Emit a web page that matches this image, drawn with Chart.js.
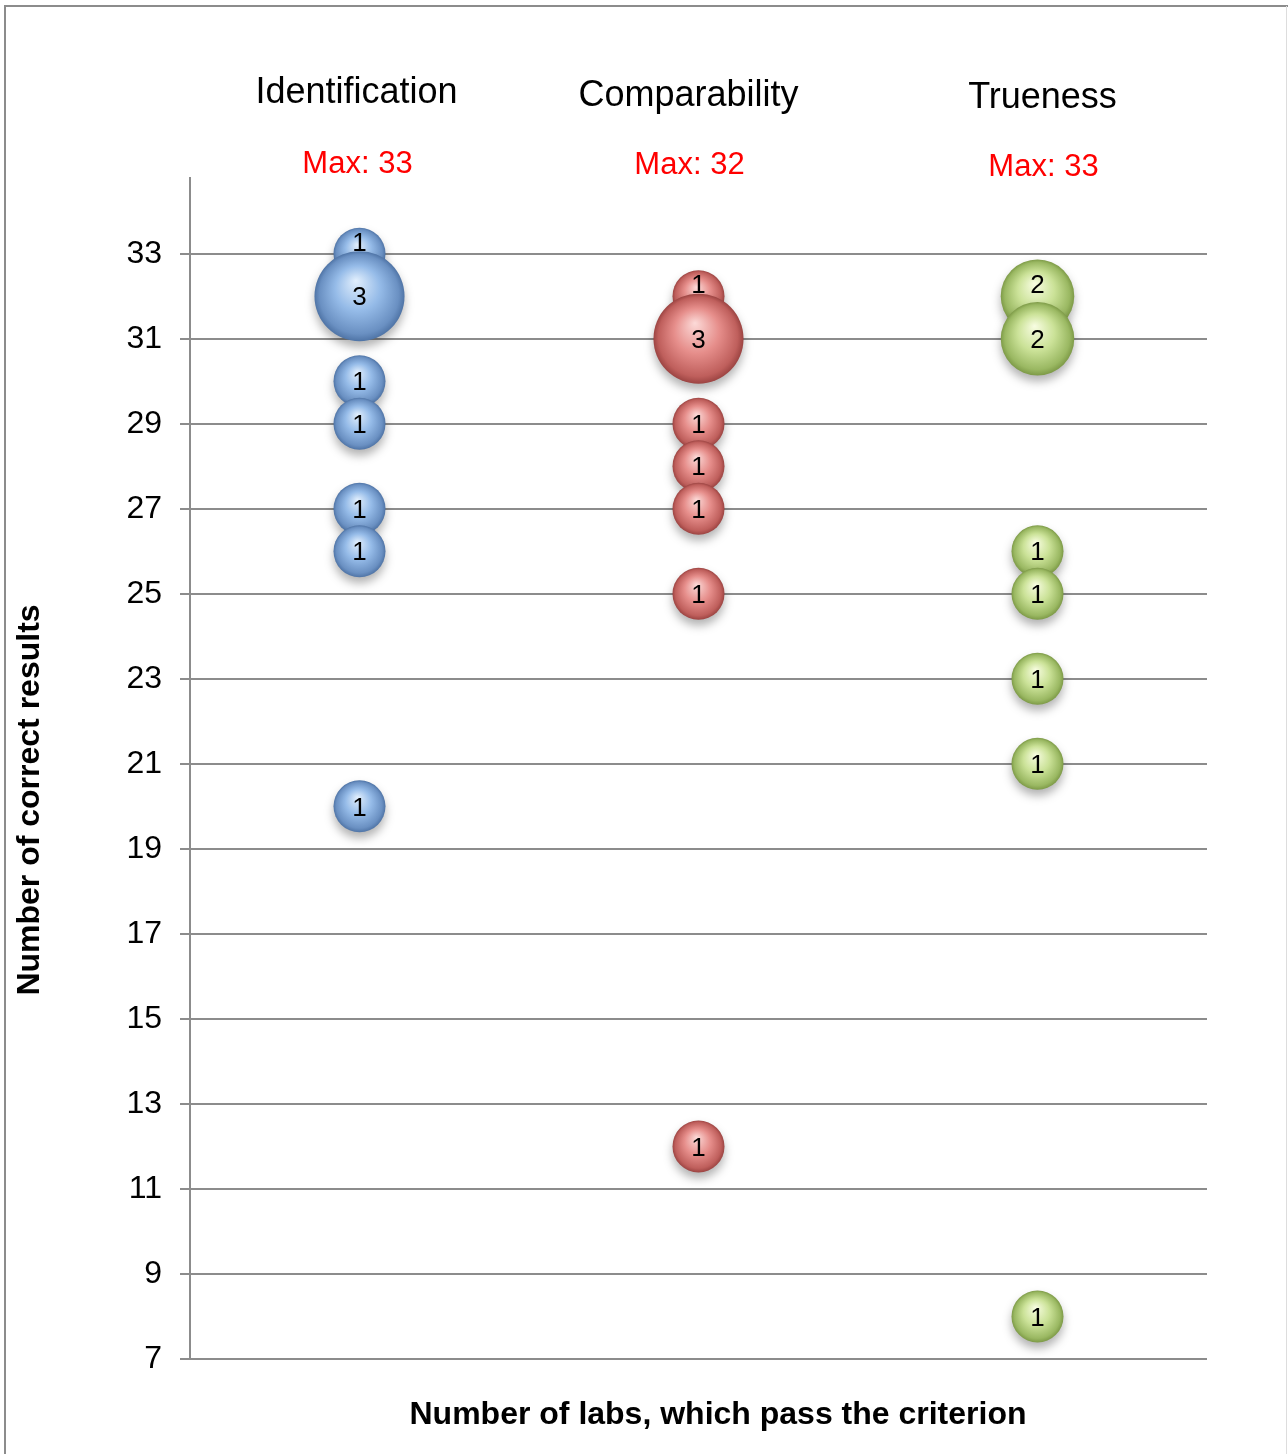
<!DOCTYPE html>
<html>
<head>
<meta charset="utf-8">
<script src="https://cdn.jsdelivr.net/npm/chart.js@4.4.1/dist/chart.umd.min.js"></script>
<style>
  html, body { margin: 0; padding: 0; background: #fff; }
  #wrap { position: relative; width: 1288px; height: 1454px; }
</style>
</head>
<body>
<div id="wrap"><canvas id="bubbleChart" width="1288" height="1454"></canvas></div>
<script>
/// === DATA === ///
const categories = ['Identification', 'Comparability', 'Trueness'];
const maxLabels = ['Max: 33', 'Max: 32', 'Max: 33'];

// correct results per lab group, and how many labs share that score
const identScores = [33, 32, 30, 29, 27, 26, 20];
const identLabs = [1, 3, 1, 1, 1, 1, 1];
const compScores = [32, 31, 29, 28, 27, 25, 12];
const compLabs = [1, 3, 1, 1, 1, 1, 1];
const trueScores = [32, 31, 26, 25, 23, 21, 8];
const trueLabs = [2, 2, 1, 1, 1, 1, 1];

const yTicks = [7, 9, 11, 13, 15, 17, 19, 21, 23, 25, 27, 29, 31, 33];

const yTitle = 'Number of correct results';
const xTitle = 'Number of labs, which pass the criterion';

/// === HELPERS === ///
const FONT = '"Liberation Sans", Arial, Helvetica, sans-serif';

// header text boxes are not exactly above the bubbles
const headerShiftX = [-3, -10, 5];
const headerShiftY = [0, 3, 5];

const toPoints = (scores, labs, catIndex) => {
  return scores.map((score, i) => ({ x: catIndex + 1, y: score, n: labs[i] }));
};

// sphere look: highlight near top, darker rim
const sphereFill = colors => context => {
  const raw = context.raw;
  const chart = context.chart;
  if (!raw || !chart.scales.x || !chart.scales.y) return colors[1];
  const cx = chart.scales.x.getPixelForValue(raw.x);
  const cy = chart.scales.y.getPixelForValue(raw.y);
  if (!isFinite(cx) || !isFinite(cy)) return colors[1];
  const r = 26 * Math.sqrt(raw.n);
  const g = chart.ctx.createRadialGradient(cx - r * 0.08, cy - r * 0.35, 0, cx, cy, r);
  g.addColorStop(0, colors[0]);
  g.addColorStop(0.5, colors[1]);
  g.addColorStop(0.88, colors[2]);
  g.addColorStop(1, colors[3]);
  return g;
};

const blueSphere = ['#e2effd', '#95bbe8', '#6a90c2', '#4f74a6'];
const redSphere = ['#fcdad8', '#e68e8b', '#bf5f5c', '#9c4442'];
const greenSphere = ['#f8fde2', '#cbe298', '#9ab862', '#7d9a47'];

/// === PLUGINS === ///
const frameAndText = {
  id: 'frameAndText',
  beforeDraw(chart) {
    const ctx = chart.ctx;
    ctx.save();
    ctx.fillStyle = '#ffffff';
    ctx.fillRect(0, 0, chart.width, chart.height);
    ctx.strokeStyle = '#8c8c8c';
    ctx.lineWidth = 2;
    ctx.beginPath();
    ctx.moveTo(5, chart.height);
    ctx.lineTo(5, 6);
    ctx.lineTo(chart.width, 6);
    ctx.stroke();
    ctx.strokeStyle = '#dddddd';
    ctx.lineWidth = 1;
    ctx.beginPath();
    ctx.moveTo(1286.5, 6);
    ctx.lineTo(1286.5, chart.height);
    ctx.stroke();
    ctx.restore();
  },
  afterDraw(chart) {
    const ctx = chart.ctx;
    const xScale = chart.scales.x;
    ctx.save();
    ctx.textAlign = 'center';
    ctx.textBaseline = 'middle';
    categories.forEach((cat, i) => {
      const px = xScale.getPixelForValue(i + 1) + headerShiftX[i];
      ctx.fillStyle = '#000000';
      ctx.font = '36px ' + FONT;
      ctx.fillText(cat, px, 93 + headerShiftY[i]);
      ctx.fillStyle = '#ff0000';
      ctx.font = '31px ' + FONT;
      ctx.fillText(maxLabels[i], px + 1, 164 + headerShiftY[i] * 0.6);
    });
    ctx.fillStyle = '#000000';
    ctx.font = 'bold 32px ' + FONT;
    ctx.fillText(xTitle, 718, 1415);
    ctx.translate(30, 800);
    ctx.rotate(-Math.PI / 2);
    ctx.fillText(yTitle, 0, 0);
    ctx.restore();
  }
};

const bubbleShadow = {
  id: 'bubbleShadow',
  beforeDatasetDraw(chart) {
    const ctx = chart.ctx;
    ctx.save();
    ctx.shadowColor = 'rgba(0, 0, 0, 0.3)';
    ctx.shadowBlur = 10;
    ctx.shadowOffsetX = 0;
    ctx.shadowOffsetY = 6;
  },
  afterDatasetDraw(chart) {
    chart.ctx.restore();
  }
};

const bubbleLabels = {
  id: 'bubbleLabels',
  afterDatasetsDraw(chart) {
    const ctx = chart.ctx;
    ctx.save();
    ctx.fillStyle = '#000000';
    ctx.font = '26px ' + FONT;
    ctx.textAlign = 'center';
    ctx.textBaseline = 'middle';
    chart.data.datasets.forEach((ds, di) => {
      const meta = chart.getDatasetMeta(di);
      meta.data.forEach((el, i) => {
        const r = el.options.radius;
        let y = el.y;
        const next = meta.data[i + 1];
        // label moves up when the next bubble covers the middle
        if (next && next.y - next.options.radius - el.y < r * 0.3) {
          y -= 12;
        }
        ctx.fillText(String(ds.data[i].n), el.x, y + 2);
      });
    });
    ctx.restore();
  }
};

/// === CHART === ///
new Chart(
  document.getElementById('bubbleChart'),
  {
    type: 'bubble',
    data: {
      datasets: [
        {
          label: categories[0],
          data: toPoints(identScores, identLabs, 0),
          backgroundColor: sphereFill(blueSphere)
        },
        {
          label: categories[1],
          data: toPoints(compScores, compLabs, 1),
          backgroundColor: sphereFill(redSphere)
        },
        {
          label: categories[2],
          data: toPoints(trueScores, trueLabs, 2),
          backgroundColor: sphereFill(greenSphere)
        }
      ]
    },
    options: {
      responsive: false,
      animation: false,
      events: [],
      clip: false,
      layout: {
        padding: { left: 0, top: 178, right: 81, bottom: 95 }
      },
      elements: {
        point: {
          radius: ctx => (ctx.raw ? 26 * Math.sqrt(ctx.raw.n) : 26),
          borderWidth: 0,
          hoverRadius: 0
        }
      },
      plugins: {
        legend: { display: false },
        tooltip: { enabled: false }
      },
      scales: {
        x: {
          type: 'linear',
          display: false,
          min: 0.5,
          max: 3.5
        },
        y: {
          type: 'linear',
          min: 7,
          max: 34.78,
          afterFit: scale => { scale.width = 190; },
          afterBuildTicks: scale => {
            scale.ticks = yTicks.map(v => ({ value: v }));
          },
          border: { display: true, color: '#8c8c8c', width: 2 },
          grid: {
            color: '#8c8c8c',
            lineWidth: 2,
            drawTicks: true,
            tickLength: 10
          },
          ticks: {
            color: '#000000',
            padding: 18,
            font: { family: FONT, size: 32 }
          }
        }
      }
    },
    plugins: [frameAndText, bubbleShadow, bubbleLabels]
  }
);
</script>
</body>
</html>
